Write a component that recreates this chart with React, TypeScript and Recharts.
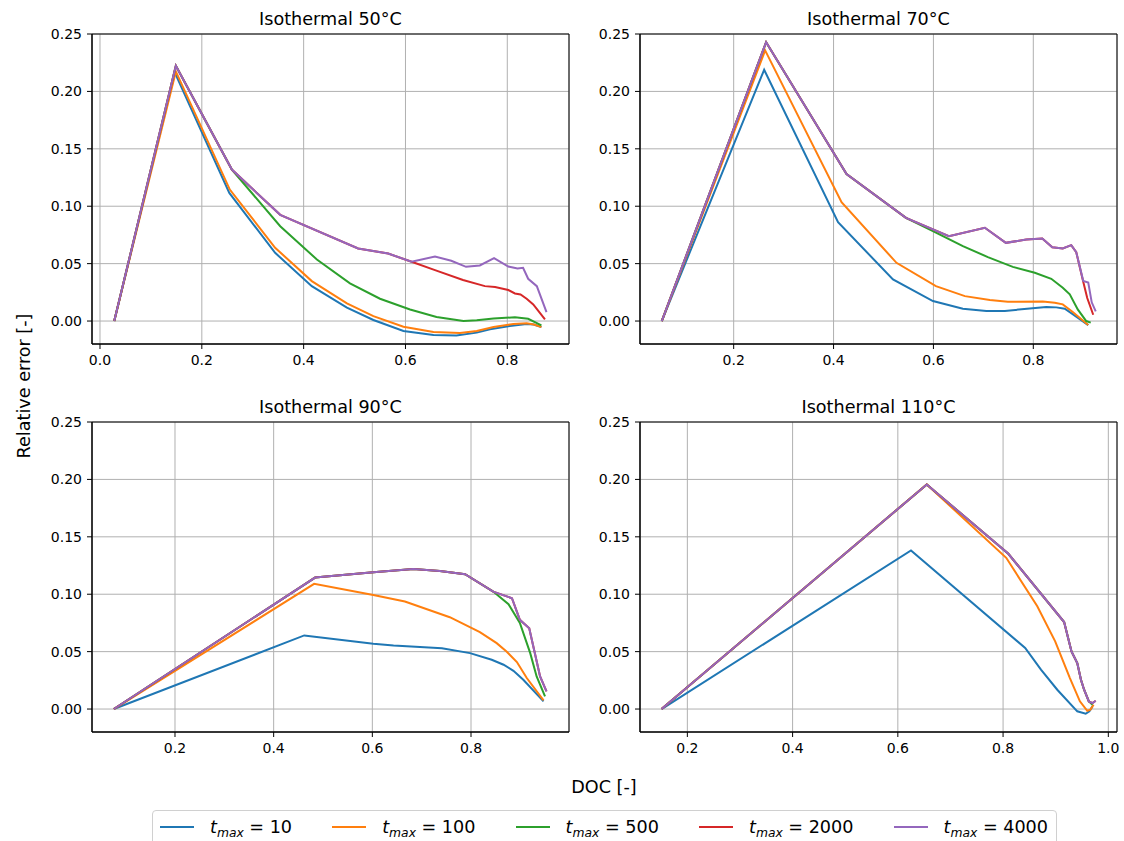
import React from 'react';
import {
  LineChart,
  Line,
  XAxis,
  YAxis,
  CartesianGrid,
  ReferenceArea
} from 'recharts';

// DOC / relative error pairs
const iso50_t10: [number, number][] = [[0.028, 0], [0.147, 0.2165], [0.254, 0.1116], [0.344, 0.0594], [0.416, 0.0304], [0.485, 0.0116], [0.537, 0.0009], [0.596, -0.0087], [0.655, -0.0122], [0.700, -0.0125], [0.740, -0.0101], [0.766, -0.0072], [0.805, -0.0043], [0.838, -0.0026], [0.852, -0.003], [0.867, -0.0052]];
const iso50_t100: [number, number][] = [[0.028, 0], [0.149, 0.2174], [0.255, 0.1145], [0.344, 0.0638], [0.416, 0.0348], [0.485, 0.0154], [0.537, 0.0043], [0.596, -0.0049], [0.655, -0.0096], [0.707, -0.0104], [0.740, -0.0087], [0.773, -0.0052], [0.812, -0.0026], [0.838, -0.002], [0.852, -0.003], [0.867, -0.0052]];
const iso50_t500: [number, number][] = [[0.028, 0], [0.149, 0.2223], [0.259, 0.1319], [0.354, 0.0826], [0.426, 0.0536], [0.491, 0.0328], [0.550, 0.0194], [0.609, 0.0101], [0.661, 0.0035], [0.714, 0.0], [0.740, 0.0006], [0.773, 0.0023], [0.815, 0.0032], [0.841, 0.002], [0.867, -0.0038]];
const iso50_t2000: [number, number][] = [[0.028, 0], [0.149, 0.2223], [0.259, 0.1319], [0.354, 0.0925], [0.507, 0.0632], [0.566, 0.0588], [0.612, 0.0516], [0.658, 0.0443], [0.713, 0.0357], [0.756, 0.0304], [0.776, 0.0296], [0.802, 0.027], [0.815, 0.024], [0.826, 0.0232], [0.838, 0.0194], [0.851, 0.0145], [0.874, 0.0014]];
const iso50_t4000: [number, number][] = [[0.028, 0], [0.149, 0.2223], [0.259, 0.1319], [0.354, 0.0925], [0.507, 0.0632], [0.566, 0.0588], [0.612, 0.0516], [0.658, 0.0562], [0.690, 0.0525], [0.719, 0.0472], [0.746, 0.0484], [0.774, 0.0548], [0.802, 0.0475], [0.820, 0.0458], [0.831, 0.0464], [0.841, 0.0368], [0.858, 0.0304], [0.877, 0.0078]];

const iso70_t10: [number, number][] = [[0.056, 0], [0.261, 0.2188], [0.409, 0.0861], [0.519, 0.0362], [0.599, 0.0174], [0.659, 0.0107], [0.706, 0.0087], [0.743, 0.0087], [0.793, 0.011], [0.826, 0.0122], [0.846, 0.0119], [0.863, 0.0107], [0.886, 0.0038], [0.910, -0.0035]];
const iso70_t100: [number, number][] = [[0.056, 0], [0.263, 0.2357], [0.416, 0.1035], [0.526, 0.0507], [0.605, 0.0304], [0.663, 0.0217], [0.713, 0.0183], [0.749, 0.0168], [0.819, 0.0171], [0.843, 0.0159], [0.859, 0.0145], [0.879, 0.0078], [0.910, -0.0035]];
const iso70_t500: [number, number][] = [[0.056, 0], [0.265, 0.2429], [0.426, 0.1281], [0.545, 0.0899], [0.599, 0.0783], [0.659, 0.0652], [0.709, 0.0557], [0.759, 0.0472], [0.803, 0.042], [0.836, 0.0368], [0.859, 0.029], [0.873, 0.0232], [0.889, 0.0101], [0.906, 0.0], [0.915, -0.0014]];
const iso70_t2000: [number, number][] = [[0.056, 0], [0.265, 0.2429], [0.426, 0.1281], [0.545, 0.0899], [0.631, 0.0739], [0.703, 0.0812], [0.745, 0.0681], [0.786, 0.071], [0.818, 0.0719], [0.838, 0.0643], [0.859, 0.0632], [0.876, 0.0661], [0.886, 0.06], [0.899, 0.036], [0.908, 0.020], [0.920, 0.0055]];
const iso70_t4000: [number, number][] = [[0.056, 0], [0.265, 0.2429], [0.426, 0.1281], [0.545, 0.0899], [0.631, 0.0739], [0.703, 0.0812], [0.745, 0.0681], [0.786, 0.071], [0.818, 0.0719], [0.838, 0.0643], [0.859, 0.0632], [0.876, 0.0661], [0.886, 0.06], [0.900, 0.035], [0.910, 0.0336], [0.917, 0.0163], [0.925, 0.0084]];

const iso90_t10: [number, number][] = [[0.076, 0], [0.462, 0.0641], [0.602, 0.0568], [0.643, 0.0554], [0.741, 0.053], [0.798, 0.0487], [0.842, 0.0429], [0.866, 0.0386], [0.886, 0.0333], [0.906, 0.0255], [0.947, 0.0067]];
const iso90_t100: [number, number][] = [[0.076, 0], [0.482, 0.109], [0.602, 0.0994], [0.666, 0.0936], [0.757, 0.08], [0.818, 0.067], [0.852, 0.0574], [0.872, 0.0501], [0.893, 0.0409], [0.913, 0.027], [0.947, 0.0075]];
const iso90_t500: [number, number][] = [[0.076, 0], [0.484, 0.1145], [0.602, 0.1191], [0.683, 0.122], [0.737, 0.1203], [0.788, 0.1174], [0.845, 0.1023], [0.876, 0.0913], [0.899, 0.075], [0.920, 0.0487], [0.933, 0.0284], [0.950, 0.011]];
const iso90_t2000: [number, number][] = [[0.076, 0], [0.484, 0.1145], [0.602, 0.1191], [0.683, 0.122], [0.737, 0.1203], [0.788, 0.1174], [0.845, 0.1023], [0.883, 0.0965], [0.899, 0.0777], [0.918, 0.0704], [0.940, 0.0284], [0.953, 0.0153]];
const iso90_t4000: [number, number][] = [[0.076, 0], [0.484, 0.1145], [0.602, 0.1191], [0.683, 0.122], [0.737, 0.1203], [0.788, 0.1174], [0.845, 0.1023], [0.883, 0.0965], [0.899, 0.0777], [0.918, 0.0704], [0.940, 0.0284], [0.953, 0.0153]];

const iso110_t10: [number, number][] = [[0.151, 0], [0.625, 0.1381], [0.842, 0.0532], [0.872, 0.0343], [0.903, 0.0168], [0.941, -0.002], [0.957, -0.0041], [0.964, -0.002], [0.970, 0.0023]];
const iso110_t100: [number, number][] = [[0.151, 0], [0.655, 0.1956], [0.806, 0.1317], [0.865, 0.0895], [0.899, 0.059], [0.927, 0.027], [0.946, 0.0067], [0.960, -0.0015], [0.966, -0.0005], [0.972, 0.0037]];
const iso110_t500: [number, number][] = [[0.151, 0], [0.655, 0.1956], [0.810, 0.1352], [0.916, 0.0758], [0.930, 0.0502], [0.941, 0.040], [0.948, 0.0255], [0.954, 0.0168], [0.963, 0.0066], [0.970, 0.0037]];
const iso110_t2000: [number, number][] = [[0.151, 0], [0.655, 0.1956], [0.810, 0.1352], [0.916, 0.0758], [0.930, 0.0502], [0.941, 0.040], [0.948, 0.0255], [0.954, 0.0168], [0.963, 0.0066], [0.970, 0.0052], [0.976, 0.0072]];
const iso110_t4000: [number, number][] = [[0.151, 0], [0.655, 0.1956], [0.810, 0.1352], [0.916, 0.0758], [0.930, 0.0502], [0.941, 0.040], [0.948, 0.0255], [0.954, 0.0168], [0.963, 0.0066], [0.970, 0.0052], [0.976, 0.0072]];

const tmaxValues = ['10', '100', '500', '2000', '4000'];
const colors = ['#1f77b4', '#ff7f0e', '#2ca02c', '#d62728', '#9467bd'];
const yTicks = [0, 0.05, 0.1, 0.15, 0.2, 0.25];
const yDomain: [number, number] = [-0.02, 0.25];

const panels = [
  { title: 'Isothermal 50°C', left: 0, top: 24, xDomain: [-0.0157, 0.9212], xTicks: [0, 0.2, 0.4, 0.6, 0.8], series: [iso50_t10, iso50_t100, iso50_t500, iso50_t2000, iso50_t4000] },
  { title: 'Isothermal 70°C', left: 548, top: 24, xDomain: [0.0124, 0.9676], xTicks: [0.2, 0.4, 0.6, 0.8], series: [iso70_t10, iso70_t100, iso70_t500, iso70_t2000, iso70_t4000] },
  { title: 'Isothermal 90°C', left: 0, top: 412, xDomain: [0.0318, 0.9986], xTicks: [0.2, 0.4, 0.6, 0.8], series: [iso90_t10, iso90_t100, iso90_t500, iso90_t2000, iso90_t4000] },
  { title: 'Isothermal 110°C', left: 548, top: 412, xDomain: [0.110, 1.0165], xTicks: [0.2, 0.4, 0.6, 0.8, 1.0], series: [iso110_t10, iso110_t100, iso110_t500, iso110_t2000, iso110_t4000] }
];

const toPoints = (arr: [number, number][]) => arr.map(([x, y]) => ({ x, y }));

const CHART_W = 579;
const CHART_H = 350;
const MARGIN = { top: 10, right: 10, left: 0, bottom: 0 };
const LABEL_SIZE = 17.6;

function Panel({ panel }: { panel: typeof panels[number] }) {
  const plotCenter = panel.left + 92 + (CHART_W - 92 - MARGIN.right) / 2;
  return (
    <>
      <div
        style={{
          position: 'absolute',
          left: plotCenter - 150,
          top: panel.top - 15,
          width: 300,
          textAlign: 'center',
          fontSize: LABEL_SIZE,
          lineHeight: '20px'
        }}
      >
        {panel.title}
      </div>
      <div style={{ position: 'absolute', left: panel.left, top: panel.top }}>
        <LineChart width={CHART_W} height={CHART_H} margin={MARGIN}>
          <CartesianGrid stroke="#b0b0b0" strokeWidth={1} />
          <XAxis
            type="number"
            dataKey="x"
            domain={panel.xDomain}
            ticks={panel.xTicks}
            allowDataOverflow
            height={30}
            tickSize={5}
            tickMargin={6}
            tickFormatter={(v: number) => v.toFixed(1)}
            stroke="#000"
            tick={{ fill: '#000', fontSize: 14 }}
          />
          <YAxis
            type="number"
            domain={yDomain}
            ticks={yTicks}
            allowDataOverflow
            width={92}
            tickSize={5}
            tickMargin={5}
            tickFormatter={(v: number) => v.toFixed(2)}
            stroke="#000"
            tick={{ fill: '#000', fontSize: 14 }}
          />
          <ReferenceArea
            x1={panel.xDomain[0]}
            x2={panel.xDomain[1]}
            y1={yDomain[0]}
            y2={yDomain[1]}
            fill="none"
            stroke="#000"
            strokeWidth={1}
            ifOverflow="visible"
          />
          {panel.series.map((s, i) => (
            <Line
              key={tmaxValues[i]}
              data={toPoints(s)}
              dataKey="y"
              type="linear"
              stroke={colors[i]}
              strokeWidth={2}
              dot={false}
              activeDot={false}
              isAnimationActive={false}
            />
          ))}
        </LineChart>
      </div>
    </>
  );
}

export default function App() {
  return (
    <div
      style={{
        position: 'absolute',
        left: 0,
        top: 0,
        width: 1124,
        height: 841,
        overflow: 'hidden',
        background: '#fff',
        fontFamily: '"DejaVu Sans", sans-serif',
        color: '#000'
      }}
    >
      {panels.map(p => (
        <Panel key={p.title} panel={p} />
      ))}

      <div
        style={{
          position: 'absolute',
          left: 24 - 200,
          top: 386 - 10,
          width: 400,
          height: 20,
          lineHeight: '20px',
          fontSize: LABEL_SIZE,
          textAlign: 'center',
          transform: 'rotate(-90deg)',
          transformOrigin: '200px 10px'
        }}
      >
        Relative error [-]
      </div>
      <div
        style={{
          position: 'absolute',
          left: 504,
          top: 777,
          width: 200,
          lineHeight: '20px',
          fontSize: LABEL_SIZE,
          textAlign: 'center'
        }}
      >
        DOC [-]
      </div>

      <div
        style={{
          position: 'absolute',
          left: 152,
          top: 810,
          width: 905,
          height: 44,
          boxSizing: 'border-box',
          border: '1px solid #d0d0d0',
          borderRadius: 4,
          display: 'flex',
          alignItems: 'flex-start',
          justifyContent: 'space-between',
          padding: '4px 8px 0 7px',
          fontSize: LABEL_SIZE
        }}
      >
        {tmaxValues.map((t, i) => (
          <div key={t} style={{ display: 'flex', alignItems: 'center', height: 24 }}>
            <svg width={34} height={4} style={{ marginRight: 16 }}>
              <line x1={0} y1={2} x2={34} y2={2} stroke={colors[i]} strokeWidth={2} />
            </svg>
            <span style={{ whiteSpace: 'nowrap' }}>
              <span style={{ fontStyle: 'italic' }}>t</span>
              <span style={{ fontStyle: 'italic', fontSize: '0.7em', position: 'relative', top: '0.35em' }}>max</span>
              {' = ' + t}
            </span>
          </div>
        ))}
      </div>
    </div>
  );
}
